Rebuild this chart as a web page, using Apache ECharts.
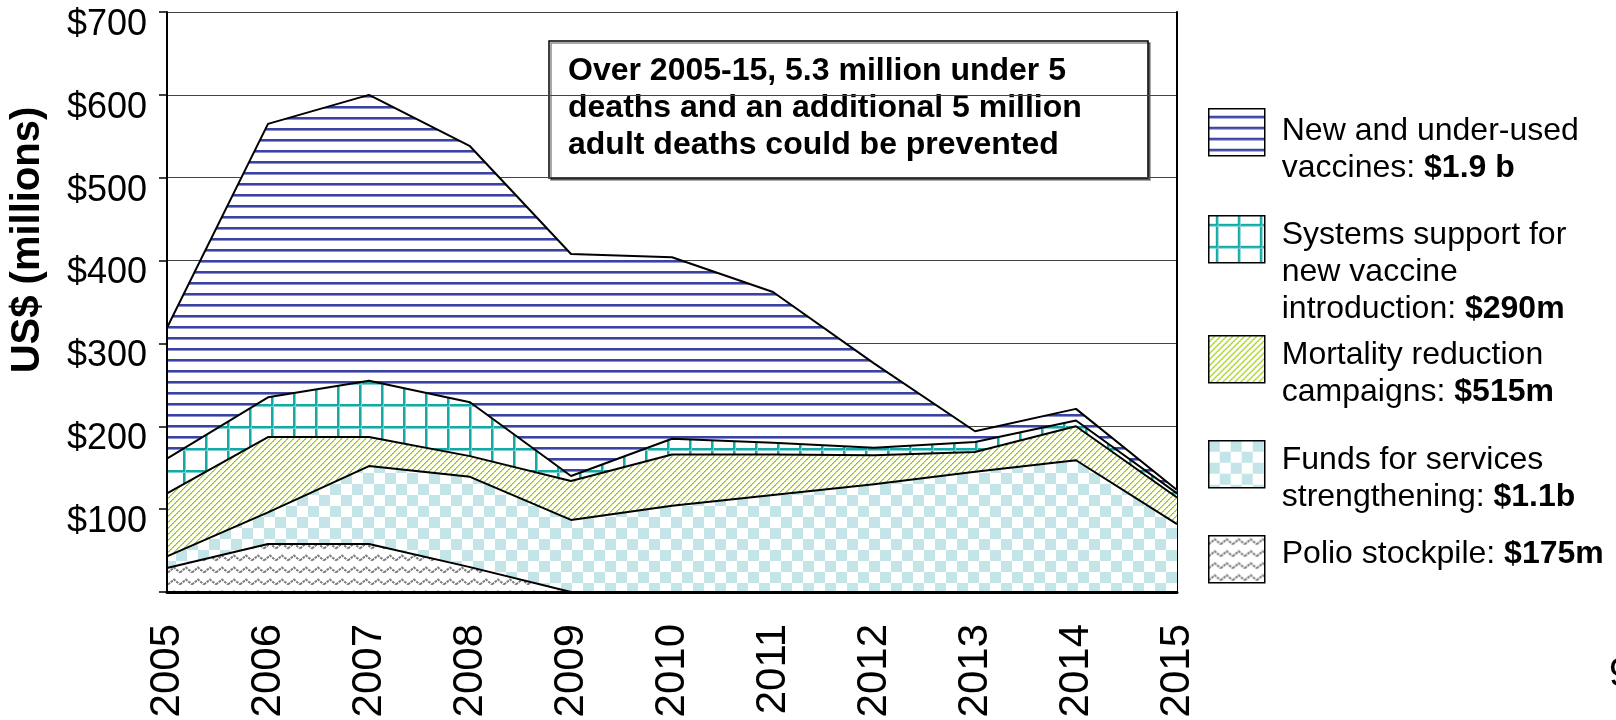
<!DOCTYPE html>
<html>
<head>
<meta charset="utf-8">
<script src="https://cdn.jsdelivr.net/npm/echarts@6/dist/echarts.min.js"></script>
<style>
  html, body { margin: 0; padding: 0; background: #fff; }
  #chart { width: 1616px; height: 720px; }
</style>
</head>
<body>
<div id="chart"></div>
<script>
// Annual spending by programme, US$ millions (stacked, bottom layer first)
const years     = ['2005', '2006', '2007', '2008', '2009', '2010', '2011', '2012', '2013', '2014', '2015'];
const polio     = [29, 58, 58, 30, 0, 0, 0, 0, 0, 0, 0];
const funds     = [14, 38, 94, 109, 87, 104, 117, 130, 145, 159, 82];
const mortality = [76, 91, 35, 25, 47, 62, 49, 35, 24, 41, 32];
const systems   = [42, 48, 68, 65, 6, 19, 14, 9, 12, 7, 5];
const vaccines  = [158, 330, 345, 309, 268, 219, 182, 102, 13, 14, 4];

const seriesNames = [
  'Polio stockpile',
  'Funds for services strengthening',
  'Mortality reduction campaigns',
  'Systems support for new vaccine introduction',
  'New and under-used vaccines'
];
// Legend wording: plain lines, then the bold total on the last line
const legendLines = [
  ['Polio stockpile: '],
  ['Funds for services', 'strengthening: '],
  ['Mortality reduction', 'campaigns: '],
  ['Systems support for', 'new vaccine', 'introduction: '],
  ['New and under-used', 'vaccines: ']
];
const legendTotals = ['$175m', '$1.1b', '$515m', '$290m', '$1.9 b'];

const yAxisTitle = 'US$ (millions)';
const noteLines = [
  'Over 2005-15, 5.3 million under 5',
  'deaths and an additional 5 million',
  'adult deaths could be prevented'
];
const pageNumber = '9';

const FONT = "'Liberation Sans', Arial, Helvetica, sans-serif";

// ---- hatch fills built on small tiles ----
function tile(w, h, draw) {
  const c = document.createElement('canvas');
  c.width = w; c.height = h;
  const ctx = c.getContext('2d');
  ctx.fillStyle = '#ffffff';
  ctx.fillRect(0, 0, w, h);
  draw(ctx);
  return { image: c, repeat: 'repeat' };
}
const fills = [
  // zigzag rows
  tile(12, 12, ctx => {
    ctx.strokeStyle = '#7a7a7a';
    ctx.lineWidth = 2;
    ctx.setLineDash([2.6, 1.0]);
    ctx.beginPath();
    ctx.moveTo(0, 8.5); ctx.lineTo(6, 3.5); ctx.lineTo(12, 8.5);
    ctx.stroke();
  }),
  // checkerboard
  tile(22, 22, ctx => {
    ctx.fillStyle = '#c4e5e8';
    ctx.fillRect(0, 0, 11, 11);
    ctx.fillRect(11, 11, 11, 11);
  }),
  // dotted diagonal stripes
  tile(6, 6, ctx => {
    for (let i = 0; i < 6; i++) {
      ctx.fillStyle = i % 2 ? '#a8d420' : '#92c400';
      ctx.fillRect(i, 5 - i, 1, 1);
      ctx.fillStyle = i % 2 ? '#d2e98c' : '#b6da3c';
      ctx.fillRect((i + 1) % 6, 5 - i, 1, 1);
    }
  }),
  // square grid
  tile(22, 22, ctx => {
    ctx.fillStyle = '#12a9a6';
    ctx.fillRect(7, 0, 2, 22);
    ctx.fillRect(0, 8, 22, 2);
    ctx.fillStyle = '#7fd0ce';
    ctx.fillRect(9, 0, 1, 22);
    ctx.fillRect(0, 10, 22, 1);
  }),
  // horizontal rules
  tile(11, 11, ctx => {
    ctx.fillStyle = '#3a42a3';
    ctx.fillRect(0, 7, 11, 2);
    ctx.fillStyle = '#8c91cc';
    ctx.fillRect(0, 9, 11, 1);
  })
];

const seriesData = [polio, funds, mortality, systems, vaccines];

const series = seriesData.map((values, i) => ({
  name: seriesNames[i],
  type: 'line',
  stack: 'total',
  data: values,
  symbol: 'none',
  showSymbol: false,
  // upper layers are drawn first so every boundary line stays visible
  z: 6 - i,
  lineStyle: { color: '#000', width: 2 },
  areaStyle: { color: fills[i], opacity: 1 },
  emphasis: { disabled: true }
}));

// One legend block per programme, listed top to bottom
const legendTops = [535, 440, 335, 215, 108];
const legendPads = [[0, 0, 10, 12], [28, 0, 0, 12], [28, 0, 0, 12], [65, 0, 0, 12], [35, 0, 0, 12]];
const legends = seriesNames.map((name, i) => {
  const lines = legendLines[i];
  const text = lines.map((l, k) =>
    k === lines.length - 1 ? '{n|' + l + '}{b|' + legendTotals[i] + '}' : '{n|' + l + '}'
  ).join('\n');
  return {
    data: [{ name: name, itemStyle: { color: fills[i], borderColor: '#000', borderWidth: 1.5 } }],
    left: 1208,
    top: legendTops[i],
    padding: 0,
    orient: 'vertical',
    icon: 'rect',
    itemWidth: 56,
    itemHeight: 47,
    selectedMode: false,
    formatter: () => text,
    textStyle: {
      padding: legendPads[i],
      rich: {
        n: { fontFamily: FONT, fontSize: 32, lineHeight: 37, color: '#000' },
        b: { fontFamily: FONT, fontSize: 32, lineHeight: 37, color: '#000', fontWeight: 'bold' }
      }
    }
  };
});

const chart = echarts.init(document.getElementById('chart'), null, { renderer: 'canvas' });
chart.setOption({
  animation: false,
  backgroundColor: '#ffffff',
  grid: { left: 167, right: 439, top: 12, bottom: 128, containLabel: false, outerBoundsMode: 'none' },
  legend: legends,
  xAxis: {
    type: 'category',
    data: years,
    boundaryGap: false,
    z: 10,
    axisLine: { show: true, lineStyle: { color: '#000', width: 3 } },
    axisTick: { show: false },
    splitLine: { show: false },
    axisLabel: {
      interval: 0,
      rotate: 90,
      margin: 32,
      color: '#000',
      fontFamily: FONT,
      fontSize: 42
    }
  },
  yAxis: [
    {
      type: 'value',
      position: 'left',
      min: 0, max: 700, interval: 100,
      z: 10,
      axisLine: { show: true, lineStyle: { color: '#000', width: 2 } },
      axisTick: { show: true, inside: false, length: 8, lineStyle: { color: '#000', width: 1.5 } },
      splitLine: { show: false },
      axisLabel: {
        margin: 20,
        color: '#000',
        fontFamily: FONT,
        fontSize: 36,
        // labels hang just below their gridline
        verticalAlign: 'top',
        lineHeight: 26,
        formatter: v => (v === 0 ? '' : '$' + v)
      }
    },
    {
      type: 'value',
      position: 'right',
      min: 0, max: 700, interval: 100,
      z: 0,
      axisLine: { show: true, lineStyle: { color: '#000', width: 2 } },
      axisTick: { show: false },
      axisLabel: { show: false },
      splitLine: { show: true, lineStyle: { color: '#444', width: 1 } }
    }
  ],
  series: series,
  graphic: [
    {
      type: 'text',
      x: 28, y: 240,
      rotation: Math.PI / 2,
      z: 50,
      style: {
        text: yAxisTitle,
        font: 'bold 40px ' + FONT,
        fill: '#000',
        align: 'center',
        verticalAlign: 'middle'
      }
    },
    {
      type: 'group',
      z: 100,
      children: [
        {
          type: 'rect',
          shape: { x: 549, y: 41, width: 599, height: 137 },
          style: {
            fill: '#fff', stroke: '#000', lineWidth: 1.5,
            shadowColor: 'rgba(0,0,0,0.45)', shadowOffsetX: 2, shadowOffsetY: 2, shadowBlur: 0
          }
        },
        {
          type: 'text',
          x: 568, y: 53,
          style: {
            text: noteLines.join('\n'),
            font: 'bold 32px ' + FONT,
            lineHeight: 37,
            fill: '#000',
            align: 'left',
            verticalAlign: 'top'
          }
        }
      ]
    },
    {
      type: 'text',
      x: 1609, y: 675,
      z: 50,
      style: {
        text: pageNumber,
        font: '40px ' + FONT,
        fill: '#000',
        align: 'left',
        verticalAlign: 'middle'
      }
    }
  ]
});
</script>
</body>
</html>
